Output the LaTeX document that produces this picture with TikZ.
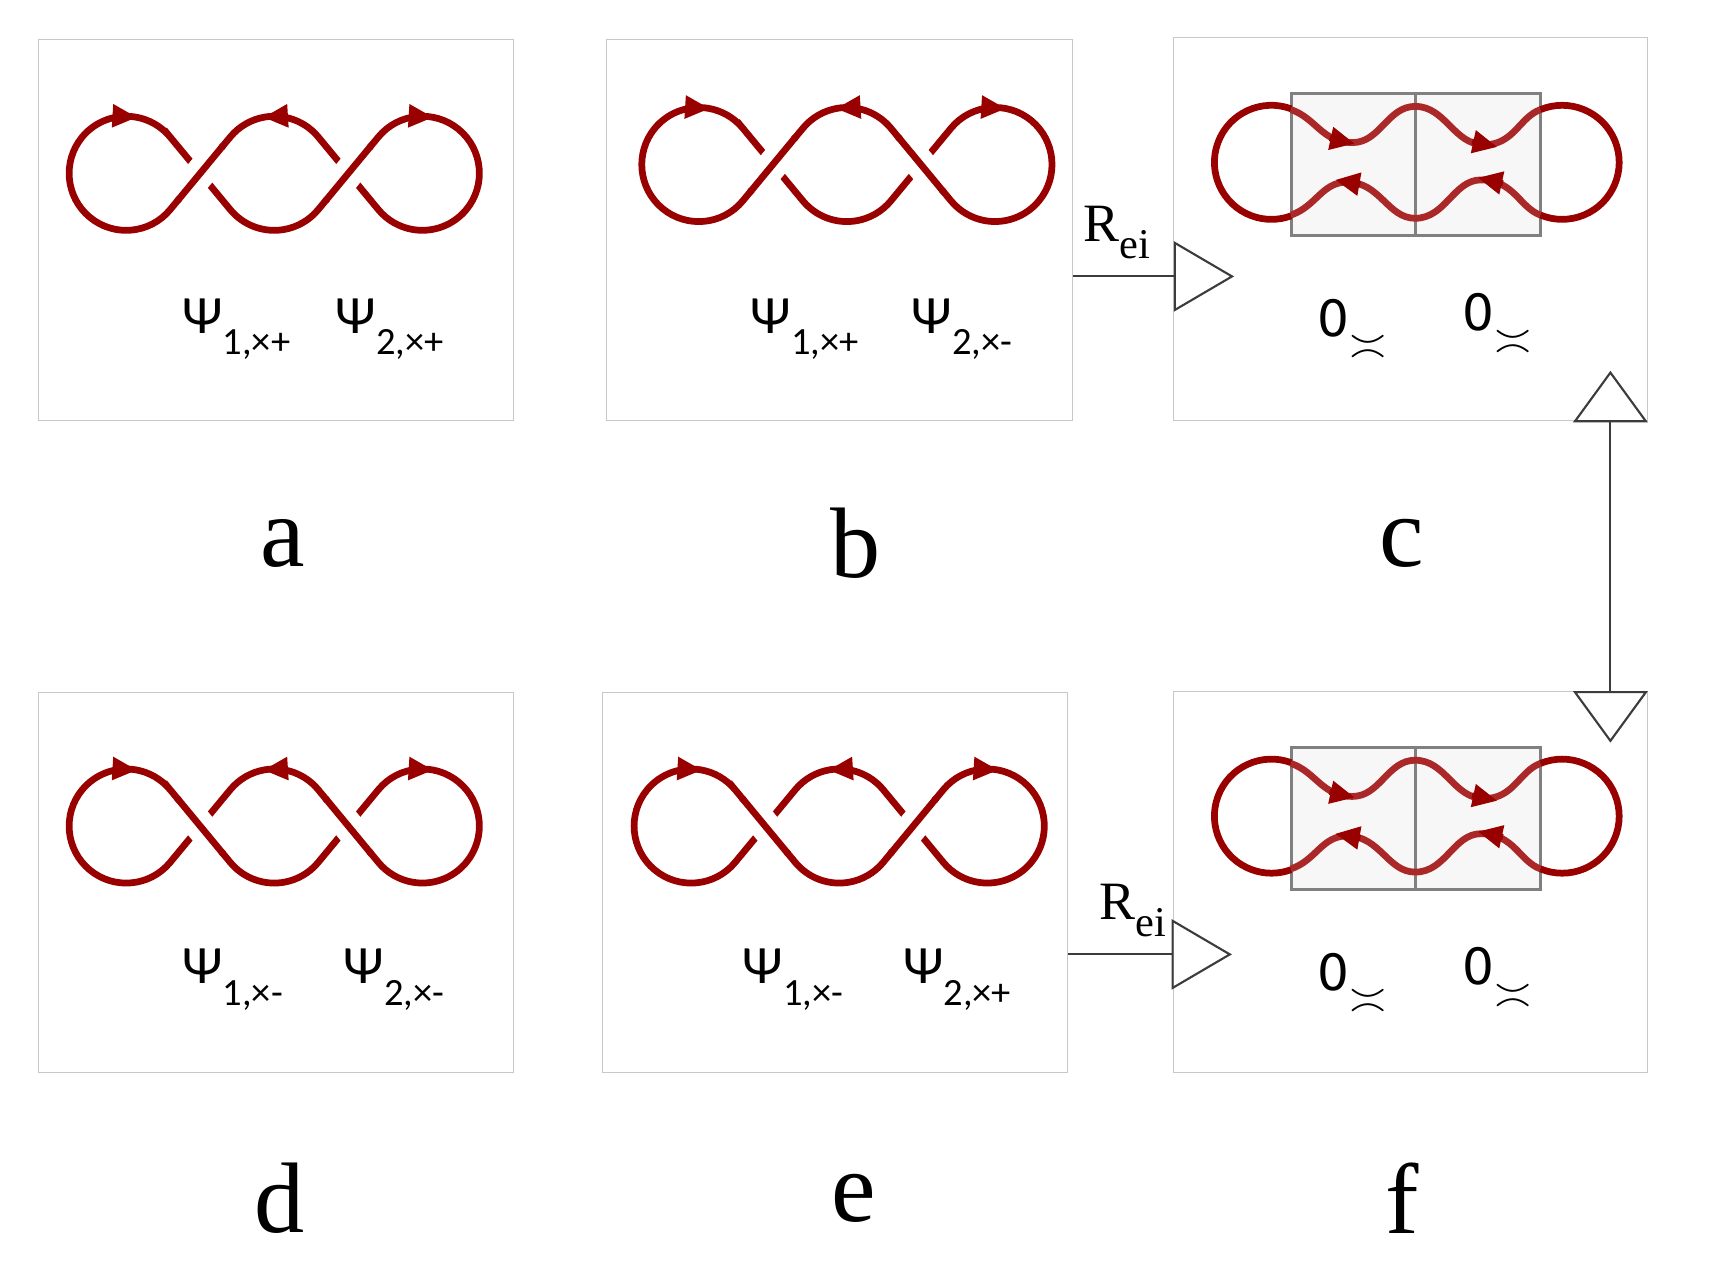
\documentclass[tikz,border=0pt]{standalone}
\usepackage{fontspec}
\setmainfont{Liberation Serif}
\newfontfamily\psifont{Carlito}
\newfontfamily\zerofont{DejaVu Sans}
\usetikzlibrary{arrows.meta, positioning}
\definecolor{knotred}{RGB}{153,0,0}
\definecolor{strandred}{RGB}{170,40,40}
\definecolor{framegray}{RGB}{200,200,200}
\definecolor{boxgray}{RGB}{128,128,128}
\definecolor{arrowgray}{RGB}{60,60,60}
\def\u{0.02cm}
\tikzset{
  panel/.style={rectangle, draw=framegray, line width=0.5pt, inner sep=0pt},
  knot/.style={draw=knotred, line width=3.5pt},
  strand/.style={draw=strandred, line width=3.5pt},
  tip/.style={knotred, line width=3pt, -{Triangle[length=0.45cm,width=0.4cm]}},
  cover/.style={draw=white, line width=0.55cm},
  cbox/.style={draw=boxgray, fill=black!3, line width=1.6pt},
  rei/.style={draw=arrowgray, line width=1.1pt, -{Triangle[open,length=1.1cm,width=1.28cm]}},
  updown/.style={draw=arrowgray, line width=1.1pt,
    {Triangle[open,length=0.94cm,width=1.36cm]}-{Triangle[open,length=0.94cm,width=1.36cm]}},
  psi/.style={anchor=west, font=\psifont\fontsize{28}{32}\selectfont},
  zero/.style={anchor=west, font=\zerofont\fontsize{26}{30}\selectfont},
  letter/.style={font=\fontsize{52}{60}\selectfont},
  reilabel/.style={font=\fontsize{28}{32}\selectfont}
}
% crossing: #1 x position, #2 = 1 for /, -1 for \
\newcommand{\knotcross}[2]{%
  \draw[cover] ({#1-19.1},{-23.1*#2}) -- ({#1+19.1},{23.1*#2});
  \draw[knot] ({#1-21},{-25.4*#2}) -- ({#1+21},{25.4*#2});}
% figure-eight chain: #1 x, #2 y, #3 and #4 crossing types
\newcommand{\eightknot}[4]{%
  \begin{scope}[shift={(#1,#2)}]
    \draw[knot] (40.07,33.15) -- (94.93,-33.15)
      arc[start angle=219.6, end angle=320.4, radius=1.04cm] -- (229.93,33.15)
      arc[start angle=140.4, end angle=-140.4, radius=1.04cm] -- (175.07,33.15)
      arc[start angle=39.6, end angle=140.4, radius=1.04cm] -- (40.07,-33.15)
      arc[start angle=-39.6, end angle=-320.4, radius=1.04cm] -- cycle;
    \knotcross{67.5}{#3}
    \knotcross{202.5}{#4}
    \draw[tip] (-6,52) -- (10,51);
    \draw[tip] (141,52) -- (125,51);
    \draw[tip] (264,52) -- (280,51);
  \end{scope}}
% coupled rings: #1 y of the centre line
\newcommand{\ringpair}[1]{%
  \begin{scope}[shift={(0,#1)}]
    \draw[cbox] (1177,-67) rectangle (1290,63);
    \draw[cbox] (1290,-67) rectangle (1404,63);
    \draw[knot] (1159,0) ++(69.7:1.04cm) arc[start angle=69.7, end angle=290.3, radius=1.04cm];
    \draw[knot] (1424,0) ++(112.6:1.04cm) arc[start angle=112.6, end angle=-112.6, radius=1.04cm];
    \draw[strand] (1177,48) .. controls (1200,40) and (1205,18) .. (1233,18)
      .. controls (1258,18) and (1265,51) .. (1290,51)
      .. controls (1318,51) and (1325,16) .. (1353,16)
      .. controls (1380,16) and (1385,41) .. (1404,48);
    \draw[strand] (1177,-48) .. controls (1200,-40) and (1205,-18) .. (1228,-18)
      .. controls (1258,-18) and (1265,-51) .. (1290,-51)
      .. controls (1318,-51) and (1325,-16) .. (1350,-16)
      .. controls (1380,-16) and (1385,-41) .. (1404,-48);
    \draw[tip] (1212,22) -- (1235,17);
    \draw[tip] (1342,19) -- (1365,14);
    \draw[tip] (1240,-20) -- (1217,-16);
    \draw[tip] (1370,-19) -- (1347,-14);
  \end{scope}}

\begin{document}
\begin{tikzpicture}[x=\u, y=\u]
\useasboundingbox (0,0) rectangle (1567,1169);

% Panels
\node (pa) [panel, minimum width=433*\u, minimum height=347*\u] at (251.5,959.5) {};
\node (pb) [panel, minimum width=425*\u, minimum height=347*\u] at (765.5,959.5) {};
\node (pc) [panel, minimum width=432*\u, minimum height=349*\u] at (1286,960.5) {};
\node (pd) [panel, minimum width=433*\u, minimum height=347*\u] at (251.5,364.5) {};
\node (pe) [panel, minimum width=424*\u, minimum height=347*\u] at (761,364.5) {};
\node (pf) [panel, minimum width=432*\u, minimum height=348*\u] at (1286,365) {};

% Knots
\eightknot{115}{1011}{1}{1}
\eightknot{637}{1019}{1}{-1}
\eightknot{115}{416}{-1}{-1}
\eightknot{630}{416}{-1}{1}
\ringpair{1021}
\ringpair{425}

% Labels
\node (la1) [psi] at (160,869) {Ψ\raisebox{-0.4em}{\fontsize{20}{22}\selectfont 1,×+}};
\node (la2) [psi] at (300,869) {Ψ\raisebox{-0.4em}{\fontsize{20}{22}\selectfont 2,×+}};
\node (lb1) [psi] at (678,869) {Ψ\raisebox{-0.4em}{\fontsize{20}{22}\selectfont 1,×+}};
\node (lb2) [psi] at (825,869) {Ψ\raisebox{-0.4em}{\fontsize{20}{22}\selectfont 2,×-}};
\node (ld1) [psi] at (160,276) {Ψ\raisebox{-0.4em}{\fontsize{20}{22}\selectfont 1,×-}};
\node (ld2) [psi] at (307,276) {Ψ\raisebox{-0.4em}{\fontsize{20}{22}\selectfont 2,×-}};
\node (le1) [psi] at (671,276) {Ψ\raisebox{-0.4em}{\fontsize{20}{22}\selectfont 1,×-}};
\node (le2) [psi] at (817,276) {Ψ\raisebox{-0.4em}{\fontsize{20}{22}\selectfont 2,×+}};
\node (lc1) [zero] at (1195,869) {0\raisebox{-0.45em}{$\asymp$}};
\node (lc2) [zero] at (1327,874) {0\raisebox{-0.45em}{$\asymp$}};
\node (lf1) [zero] at (1195,273) {0\raisebox{-0.45em}{$\asymp$}};
\node (lf2) [zero] at (1327,278) {0\raisebox{-0.45em}{$\asymp$}};

\node (ta) [letter] at (258,674) {a};
\node (tb) [letter] at (780,674) {b};
\node (tc) [letter] at (1278,674) {c};
\node (td) [letter] at (255,77) {d};
\node (te) [letter] at (778,77) {e};
\node (tf) [letter] at (1278,77) {f};

% Arrows
\coordinate (rei1) at (1125,917);
\coordinate (rei2) at (1123,299);
\node (r1) [reilabel] at (1018,957) {R\raisebox{-0.3em}{\fontsize{22}{24}\selectfont ei}};
\node (r2) [reilabel] at (1033,339) {R\raisebox{-0.3em}{\fontsize{22}{24}\selectfont ei}};
\draw [rei] (pb.east |- rei1) -- (rei1);
\draw [rei] (pe.east |- rei2) -- (rei2);
\coordinate (vtop) at (1468,831);
\coordinate (vbot) at (1468,492);
\draw [updown] (vtop) -- (vbot);

\end{tikzpicture}
\end{document}
